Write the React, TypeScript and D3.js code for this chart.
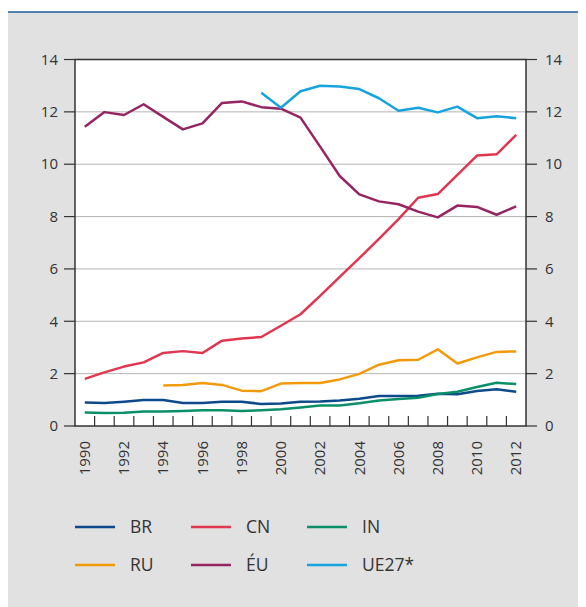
import * as d3 from 'd3';

const years = d3.range(1990, 2013);
const yTicks = [0, 2, 4, 6, 8, 10, 12, 14];

const br = [0.90, 0.88, 0.93, 0.99, 0.99, 0.88, 0.88, 0.93, 0.93, 0.84, 0.86, 0.93, 0.94, 0.97, 1.04, 1.15, 1.15, 1.16, 1.23, 1.21, 1.34, 1.40, 1.31];
const cn = [1.80, 2.05, 2.27, 2.43, 2.79, 2.86, 2.79, 3.26, 3.34, 3.40, 3.83, 4.27, 4.97, 5.70, 6.41, 7.15, 7.90, 8.72, 8.86, 9.59, 10.33, 10.38, 11.12];
const ind = [0.52, 0.50, 0.51, 0.55, 0.55, 0.57, 0.60, 0.60, 0.57, 0.60, 0.64, 0.71, 0.78, 0.78, 0.87, 0.97, 1.03, 1.08, 1.22, 1.31, 1.49, 1.65, 1.60];
const ru = [null, null, null, null, 1.55, 1.57, 1.64, 1.57, 1.35, 1.33, 1.62, 1.64, 1.64, 1.78, 1.99, 2.34, 2.51, 2.53, 2.93, 2.39, 2.62, 2.83, 2.85];
const eu = [11.43, 11.99, 11.88, 12.29, 11.81, 11.33, 11.56, 12.34, 12.40, 12.18, 12.12, 11.78, 10.67, 9.55, 8.85, 8.58, 8.47, 8.19, 7.97, 8.42, 8.37, 8.07, 8.39];
const ue27 = [null, null, null, null, null, null, null, null, null, 12.73, 12.16, 12.79, 13.0, 12.97, 12.87, 12.52, 12.04, 12.16, 11.98, 12.2, 11.76, 11.83, 11.76];

const series = [
  { name: 'BR', values: br, color: '#0d4a8c' },
  { name: 'CN', values: cn, color: '#e0364f' },
  { name: 'IN', values: ind, color: '#0a8f68' },
  { name: 'RU', values: ru, color: '#f39a0b' },
  { name: 'ÉU', values: eu, color: '#962463' },
  { name: 'UE27*', values: ue27, color: '#17a3de' },
];

const W = 578;
const H = 599;
const left = 67;
const right = 518;
const top = 51.5;
const bottom = 418;
const font = "'Open Sans', 'Noto Sans', sans-serif";

export default function App() {
  const x = d3.scaleBand<number>().domain(years).range([left, right]);
  const y = d3.scaleLinear().domain([0, 14]).range([bottom, top]);
  const cx = (yr: number) => (x(yr) as number) + x.bandwidth() / 2;

  const line = d3.line<number | null>()
    .defined(d => d !== null)
    .x((_, i) => cx(years[i]))
    .y(d => y(d as number));

  return (
    <svg width={W} height={H} style={{ display: 'block' }}>
      <rect x={0} y={4} width={W} height={H} fill="#e1e1e1" />
      <line x1={0} x2={W} y1={4} y2={4} stroke="#1f5c9e" strokeWidth={1.5} />
      <rect x={left} y={top} width={right - left} height={bottom - top} fill="#ffffff" />

      {yTicks.filter(t => t > 0 && t < 14).map(t => (
        <line key={t} x1={left} x2={right} y1={y(t)} y2={y(t)} stroke="#b4b4b4" strokeWidth={1} />
      ))}

      {years.slice(1).map(yr => (
        <line key={yr} x1={x(yr)} x2={x(yr)} y1={bottom} y2={bottom - 10} stroke="#333" strokeWidth={1.2} />
      ))}

      {series.map(s => (
        <path key={s.name} d={line(s.values) ?? ''} fill="none" stroke={s.color} strokeWidth={2.5} strokeLinejoin="round" />
      ))}

      <rect x={left} y={top} width={right - left} height={bottom - top} fill="none" stroke="#333" strokeWidth={1.5} />

      {yTicks.map(t => (
        <g key={t} fontFamily={font} fontSize={15} fill="#333">
          <line x1={left - 11} x2={left} y1={y(t)} y2={y(t)} stroke="#333" strokeWidth={1.2} />
          <line x1={right} x2={right + 11} y1={y(t)} y2={y(t)} stroke="#333" strokeWidth={1.2} />
          <text x={left - 17} y={y(t)} dy="0.35em" textAnchor="end">{t}</text>
          <text x={right + 19} y={y(t)} dy="0.35em" textAnchor="start">{t}</text>
        </g>
      ))}

      {years.filter(yr => yr % 2 === 0).map(yr => (
        <text key={yr} transform={`translate(${cx(yr)},${bottom + 15}) rotate(-90)`}
          textAnchor="end" dy="0.35em" fontFamily={font} fontSize={15} fill="#333">{yr}</text>
      ))}

      {series.map((s, i) => {
        const col = i % 3;
        const row = Math.floor(i / 3);
        const lx = 67 + col * 116;
        const ly = 519 + row * 38;
        return (
          <g key={s.name} fontFamily={font} fontSize={17.5} fill="#333">
            <line x1={lx} x2={lx + 40} y1={ly} y2={ly} stroke={s.color} strokeWidth={2.5} />
            <text x={lx + 55} y={ly} dy="0.36em">{s.name}</text>
          </g>
        );
      })}
    </svg>
  );
}
